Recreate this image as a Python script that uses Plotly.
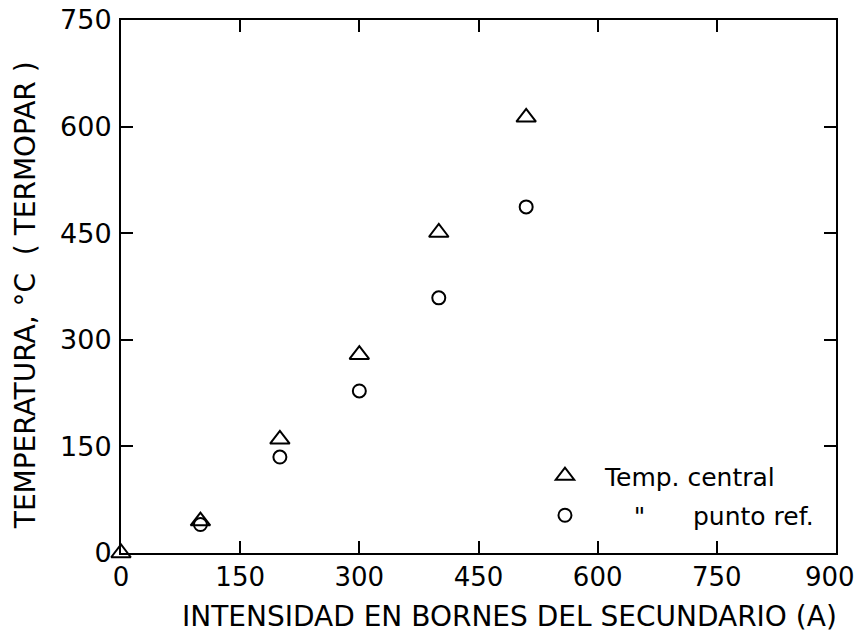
import plotly.graph_objects as go

# Current at the secondary terminals (A)
corriente_central = [0, 100, 200, 300, 400, 510]
corriente_ref = [100, 200, 300, 400, 510]

# Thermocouple temperature (°C)
temp_central = [0, 45, 160, 279, 451, 613]
temp_ref = [40, 135, 228, 359, 487]

x_ticks = [0, 150, 300, 450, 600, 750, 900]
y_ticks = [0, 150, 300, 450, 600, 750]

FONT = "DejaVu Sans"
NB = "\u00a0"

fig = go.Figure()
fig.add_trace(go.Scatter(
    x=corriente_central, y=temp_central, mode="markers",
    name="Temp. central", legendgroup="a",
    marker=dict(symbol="triangle-up-open", size=17, color="black",
                line=dict(width=2, color="black")),
    cliponaxis=False,
))
fig.add_trace(go.Scatter(
    x=corriente_ref, y=temp_ref, mode="markers",
    name=NB * 3 + "\u2009" + '"' + NB * 6 + "punto ref.", legendgroup="b",
    marker=dict(symbol="circle-open", size=13, color="black",
                line=dict(width=2, color="black")),
    cliponaxis=False,
))

axis_common = dict(
    showline=True, mirror="ticks", linecolor="black", linewidth=2,
    ticks="inside", ticklen=12, tickwidth=2, tickcolor="black",
    showgrid=False, zeroline=False,
)

# the last x label is drawn separately, nudged inward so it fits the page
x_labels = [str(v) for v in x_ticks]
x_labels[-1] = ""

fig.update_xaxes(
    range=[0, 900], tickvals=x_ticks, ticktext=x_labels,
    tickfont=dict(family=FONT, size=26, color="black"),
    ticklabelstandoff=0,
    **axis_common,
)
fig.update_yaxes(
    range=[0, 750], tickvals=y_ticks, ticktext=[str(v) for v in y_ticks],
    tickfont=dict(family=FONT, size=27, color="black"),
    ticklabelstandoff=2,
    **axis_common,
)

fig.add_annotation(
    text=str(x_ticks[-1]), xref="x", yref="paper", x=x_ticks[-1], y=-0.045,
    xanchor="center", yanchor="middle", xshift=-6, showarrow=False,
    font=dict(family=FONT, size=26, color="black"),
)

# Axis titles placed as paper annotations
fig.add_annotation(
    text="INTENSIDAD EN BORNES DEL SECUNDARIO (A)",
    xref="paper", yref="paper", x=0.544, y=-0.12,
    xanchor="center", yanchor="middle", showarrow=False,
    font=dict(family=FONT, size=28, color="black"),
)
fig.add_annotation(
    text="TEMPERATURA, °C  ( TERMOPAR )",
    xref="paper", yref="paper", x=-0.134, y=0.484,
    xanchor="center", yanchor="middle", showarrow=False, textangle=-90,
    font=dict(family=FONT, size=28, color="black"),
)

fig.update_layout(
    width=859, height=639,
    margin=dict(l=121, r=23, t=20, b=86, autoexpand=False),
    paper_bgcolor="white", plot_bgcolor="white",
    showlegend=True,
    legend=dict(
        x=0.565, y=0.1876, xanchor="left", yanchor="top",
        font=dict(family=FONT, size=25, color="black"),
        bgcolor="rgba(0,0,0,0)", borderwidth=0,
        traceorder="grouped", tracegroupgap=4, itemwidth=70,
    ),
)

fig.write_html("out.html")
